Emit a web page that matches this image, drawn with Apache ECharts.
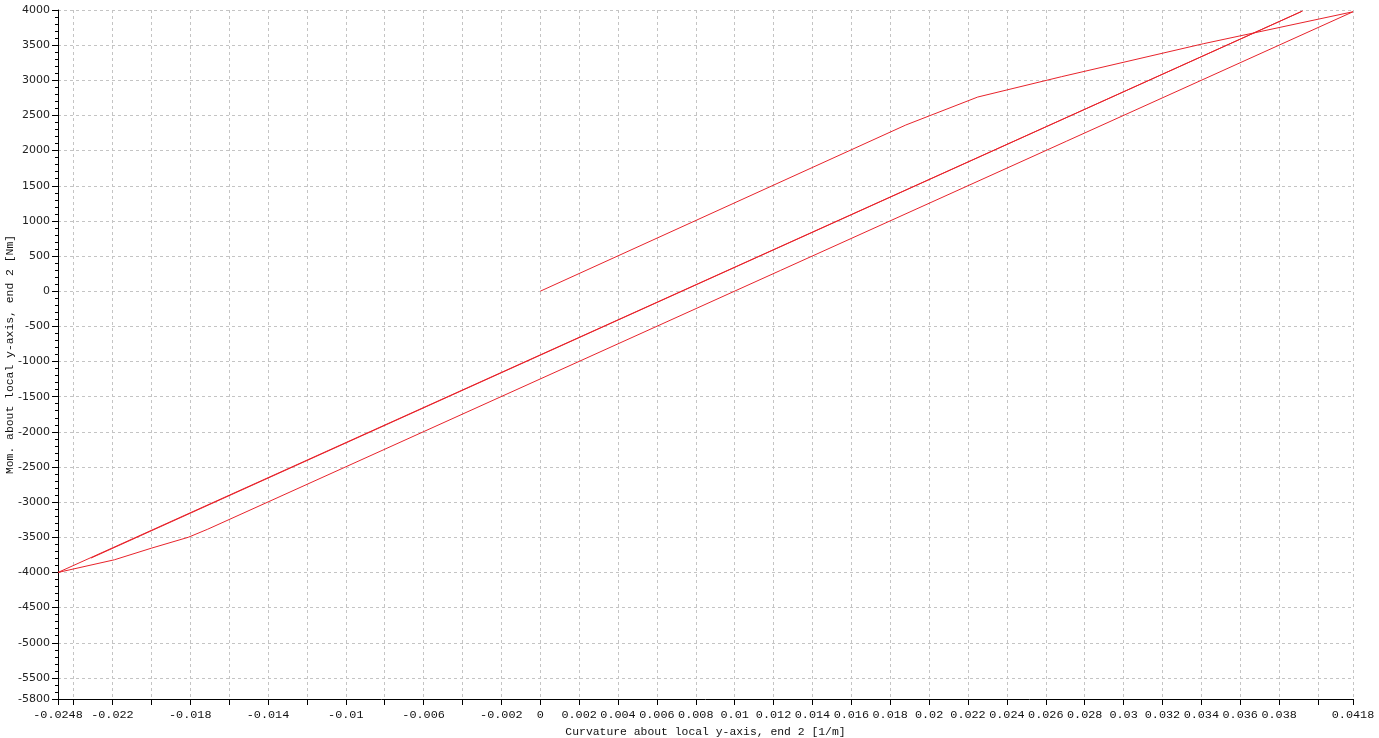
<!DOCTYPE html>
<html>
<head>
<meta charset="utf-8">
<script src="https://cdn.jsdelivr.net/npm/echarts@6/dist/echarts.min.js"></script>
<style>html,body{margin:0;padding:0;background:#fff}#c{width:1379px;height:738px}</style>
</head>
<body>
<div id="c"></div>
<script>
// Data (curvature [1/m], moment [Nm]), in path order
var curvature = [0, 0.0188, 0.0225, 0.0268, 0.0341, 0.0418, -0.0171, -0.0181, -0.0200, -0.0219, -0.0248, 0.0392, -0.0231];
var moment    = [0, 2364, 2762, 3051, 3520, 3975, -3385, -3500, -3655, -3820, -4000, 3985, -3795];

var xMin = -0.0248, xMax = 0.0418;
var yMin = -5800, yMax = 4000;
var xTicks = [-0.0248, -0.024, -0.022, -0.02, -0.018, -0.016, -0.014, -0.012, -0.01, -0.008, -0.006, -0.004, -0.002, 0,
  0.002, 0.004, 0.006, 0.008, 0.01, 0.012, 0.014, 0.016, 0.018, 0.02, 0.022, 0.024, 0.026, 0.028, 0.03, 0.032, 0.034, 0.036, 0.038, 0.04, 0.0418];
var xLabels = [-0.0248, -0.022, -0.018, -0.014, -0.01, -0.006, -0.002, 0,
  0.002, 0.004, 0.006, 0.008, 0.01, 0.012, 0.014, 0.016, 0.018, 0.02, 0.022, 0.024, 0.026, 0.028, 0.03, 0.032, 0.034, 0.036, 0.038, 0.0418];
var yTicks = [-5800, -5500, -5000, -4500, -4000, -3500, -3000, -2500, -2000, -1500, -1000, -500, 0, 500, 1000, 1500, 2000, 2500, 3000, 3500, 4000];
var xTitle = 'Curvature about local y-axis, end 2 [1/m]';
var yTitle = 'Mom. about local y-axis, end 2 [Nm]';

var pts = curvature.map(function (c, i) { return [c, moment[i]]; });
var mono = '"Liberation Mono", "DejaVu Sans Mono", monospace';
var sans = '"DejaVu Sans", Verdana, sans-serif';
function fmt(v) { return String(Number(v.toFixed(4))); }

var chart = echarts.init(document.getElementById('c'), null, {renderer: 'canvas'});
chart.setOption({
  animation: false,
  backgroundColor: '#fff',
  grid: {left: 58, right: 26, top: 10, bottom: 39, containLabel: false, outerBoundsMode: 'none'},
  xAxis: {
    type: 'value', min: xMin, max: xMax,
    name: xTitle, nameLocation: 'middle', nameGap: 27, nameMoveOverlap: false,
    nameTextStyle: {fontFamily: mono, fontSize: 11.4, color: '#111'},
    axisLine: {onZero: false, lineStyle: {color: '#000', width: 1}},
    axisTick: {show: true, length: 6, customValues: xTicks, lineStyle: {color: '#000'}},
    axisLabel: {customValues: xLabels, formatter: fmt, fontFamily: mono, fontSize: 11.8, color: '#111', margin: 10, hideOverlap: false},
    splitLine: {show: true, lineStyle: {color: '#c4c4c4', type: [3, 3], width: 1}}
  },
  yAxis: [{
    type: 'value', min: yMin, max: yMax,
    name: yTitle, nameLocation: 'middle', nameGap: 43, nameMoveOverlap: false,
    nameTextStyle: {fontFamily: mono, fontSize: 11.4, color: '#111'},
    axisLine: {onZero: false, lineStyle: {color: '#000', width: 1}},
    axisTick: {show: true, length: 6, customValues: yTicks, lineStyle: {color: '#000'}},
    axisLabel: {customValues: yTicks, formatter: function (v) { return String(v); }, fontFamily: sans, fontSize: 11, color: '#222', margin: 8, hideOverlap: false},
    splitLine: {show: true, lineStyle: {color: '#c4c4c4', type: [3, 3], width: 1}}
  }, {
    type: 'value', min: yMin, max: yMax, interval: 100, position: 'left',
    axisLine: {show: false, onZero: false},
    axisTick: {show: true, length: 3, lineStyle: {color: '#000'}},
    axisLabel: {show: false},
    splitLine: {show: false}
  }],
  series: [{
    type: 'line', data: pts, xAxisIndex: 0, yAxisIndex: 0,
    showSymbol: false, symbol: 'none',
    lineStyle: {color: '#e8232b', width: 1},
    clip: true
  }]
});
</script>
</body>
</html>
